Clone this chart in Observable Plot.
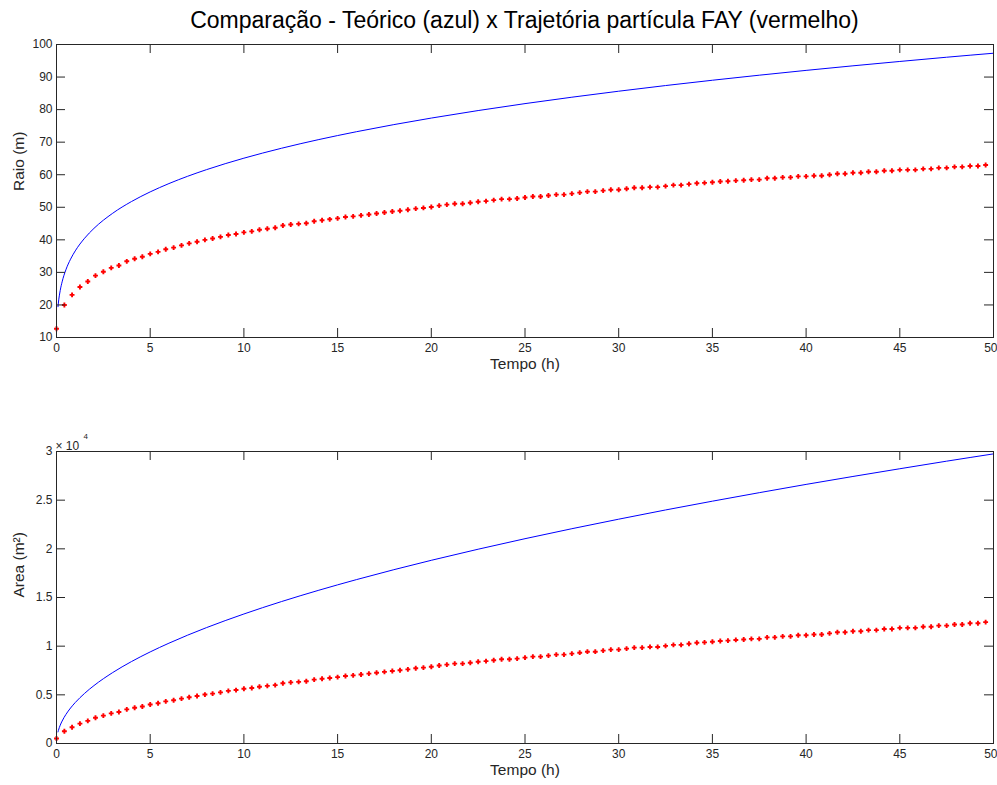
<!DOCTYPE html>
<html>
<head>
<meta charset="utf-8">
<script src="https://cdn.jsdelivr.net/npm/d3@7"></script>
<script src="https://cdn.jsdelivr.net/npm/@observablehq/plot@0.6"></script>
<style>
  html, body { margin: 0; padding: 0; background: #fff; }
  #wrap { position: relative; width: 997px; height: 785px; overflow: hidden; background: #fff; }
  #title { position: absolute; left: 56px; width: 937px; top: 7px; text-align: center;
           font-family: "Liberation Sans", Arial, sans-serif; font-size: 23px; color: #000; }
  #p1 { position: absolute; left: 0; top: 34px; }
  #p2 { position: absolute; left: 0; top: 383px; }
</style>
</head>
<body>
<div id="wrap">
  <div id="title"></div>
  <div id="p1"></div>
  <div id="p2"></div>
</div>
<script>
// ---- data ----
const titleText = "Comparação - Teórico (azul) x Trajetória partícula FAY (vermelho)";
const xLabel = "Tempo (h)";
const yLabelTop = "Raio (m)";
const yLabelBottom = "Area (m²)";

const xTicks = [0, 5, 10, 15, 20, 25, 30, 35, 40, 45, 50];
const yTicksTop = [10, 20, 30, 40, 50, 60, 70, 80, 90, 100];
const yTicksBottom = [0, 5000, 10000, 15000, 20000, 25000, 30000];

// theoretical (blue) curve
const blueTime = [0.08, 0.1, 0.2, 0.3, 0.5, 0.75, 1, 1.5, 2, 3, 4, 5, 6, 7, 8, 10, 12, 14, 16, 18, 20,
  22.5, 25, 27.5, 30, 32.5, 35, 37.5, 40, 42.5, 45, 47.5, 50];
const blueRadius = [19.46, 20.58, 24.48, 27.09, 30.78, 34.06, 36.6, 40.5, 43.52, 48.17, 51.76, 54.73,
  57.28, 59.53, 61.55, 65.08, 68.12, 70.8, 73.2, 75.39, 77.4, 79.71, 81.84, 83.81, 85.65, 87.39,
  89.02, 90.57, 92.05, 93.45, 94.79, 96.09, 97.32];
const blueArea = [1190, 1331, 1883, 2305, 2976, 3645, 4208, 5153, 5950, 7290, 8417, 9410, 10307,
  11133, 11902, 13306, 14578, 15748, 16834, 17856, 18821, 19961, 21042, 22067, 23047, 23993,
  24896, 25770, 26620, 27436, 28228, 29007, 29755];

// FAY particle trajectory (red)
const redTime = [
  0, 0.42, 0.83, 1.25, 1.67, 2.08, 2.5, 2.92, 3.33, 3.75, 4.17, 4.58, 5, 5.42, 5.83, 6.25, 6.67, 7.08, 7.5, 7.92, 8.33, 8.75, 9.17, 9.58,
  10, 10.42, 10.83, 11.25, 11.67, 12.08, 12.5, 12.92, 13.33, 13.75, 14.17, 14.58, 15, 15.42, 15.83, 16.25, 16.67, 17.08, 17.5, 17.92, 18.33, 18.75, 19.17, 19.58,
  20, 20.42, 20.83, 21.25, 21.67, 22.08, 22.5, 22.92, 23.33, 23.75, 24.17, 24.58, 25, 25.42, 25.83, 26.25, 26.67, 27.08, 27.5, 27.92, 28.33, 28.75, 29.17, 29.58,
  30, 30.42, 30.83, 31.25, 31.67, 32.08, 32.5, 32.92, 33.33, 33.75, 34.17, 34.58, 35, 35.42, 35.83, 36.25, 36.67, 37.08, 37.5, 37.92, 38.33, 38.75, 39.17, 39.58,
  40, 40.42, 40.83, 41.25, 41.67, 42.08, 42.5, 42.92, 43.33, 43.75, 44.17, 44.58, 45, 45.42, 45.83, 46.25, 46.67, 47.08, 47.5, 47.92, 48.33, 48.75, 49.17, 49.58];
const redRadius = [
  12.7, 20.0, 23.1, 25.5, 27.2, 29.0, 30.2, 31.4, 32.1, 33.4, 34.2, 34.8, 35.7, 36.3, 37.1, 37.6, 38.3, 38.9, 39.4, 40.0, 40.4, 40.9, 41.5, 41.8,
  42.3, 42.6, 43.1, 43.4, 43.7, 44.4, 44.7, 44.9, 45.1, 45.7, 46.0, 46.3, 46.6, 47.0, 47.2, 47.5, 47.8, 48.1, 48.4, 48.7, 48.95, 49.25, 49.6, 49.8,
  50.1, 50.5, 50.8, 51.1, 51.1, 51.4, 51.7, 51.9, 52.2, 52.5, 52.5, 52.7, 53.0, 53.3, 53.3, 53.6, 53.9, 53.9, 54.2, 54.5, 54.8, 54.8, 55.1, 55.4,
  55.4, 55.7, 56.0, 56.0, 56.2, 56.2, 56.5, 56.8, 56.8, 57.1, 57.4, 57.5, 57.7, 57.9, 58.0, 58.2, 58.3, 58.5, 58.5, 58.9, 58.9, 59.2, 59.2, 59.5,
  59.5, 59.7, 59.7, 60.0, 60.3, 60.3, 60.6, 60.6, 60.9, 60.9, 61.2, 61.2, 61.5, 61.5, 61.5, 61.8, 61.8, 62.1, 62.1, 62.4, 62.4, 62.7, 62.7, 63.0];
const redArea = [
  507, 1257, 1676, 2043, 2324, 2642, 2865, 3097, 3237, 3505, 3675, 3805, 4004, 4140, 4324, 4441, 4608, 4754, 4877, 5027, 5128, 5255, 5411, 5489,
  5621, 5701, 5836, 5917, 5999, 6193, 6277, 6333, 6390, 6561, 6648, 6735, 6822, 6940, 6999, 7088, 7178, 7269, 7359, 7451, 7528, 7620, 7729, 7791,
  7885, 8012, 8107, 8203, 8203, 8300, 8397, 8462, 8560, 8659, 8659, 8725, 8825, 8925, 8925, 9026, 9127, 9127, 9229, 9331, 9434, 9434, 9538, 9642,
  9642, 9747, 9852, 9852, 9922, 9922, 10029, 10136, 10136, 10243, 10351, 10387, 10459, 10532, 10568, 10641, 10678, 10751, 10751, 10899, 10899, 11010, 11010, 11122,
  11122, 11197, 11197, 11310, 11423, 11423, 11537, 11537, 11652, 11652, 11767, 11767, 11882, 11882, 11882, 11998, 11998, 12115, 12115, 12233, 12233, 12351, 12351, 12469];

// ---- build ----
document.getElementById("title").textContent = titleText;

const W = 997;
const mL = 56, mR = 4;
const tickLen = 9;
const ink = "#262626";
const font = '"Liberation Sans", Arial, sans-serif';

const blueTop = blueTime.map((t, i) => ({t, v: blueRadius[i]}));
const blueBot = blueTime.map((t, i) => ({t, v: blueArea[i]}));
const redTop = redTime.map((t, i) => ({t, v: redRadius[i]}));
const redBot = redTime.map((t, i) => ({t, v: redArea[i]}));

const xTicksInner = xTicks.slice(0, -1);
const xTickLast = xTicks.slice(-1);

function panel({mT, mB, innerH, yDomain, yTicks, yFormat, blue, red, yLabel, extra = []}) {
  const innerW = W - mL - mR;
  return Plot.plot({
    width: W,
    height: mT + innerH + mB,
    marginLeft: mL, marginRight: mR, marginTop: mT, marginBottom: mB,
    style: {fontFamily: font, fontSize: "12px", color: ink, background: "white", overflow: "hidden"},
    x: {domain: [0, 50], ticks: xTicks},
    y: {domain: yDomain, ticks: yTicks},
    marks: [
      Plot.line(blue, {x: "t", y: "v", stroke: "#0000ff", strokeWidth: 1, curve: "monotone-x"}),
      Plot.dot(red, {x: "t", y: "v", symbol: "plus", r: 1.7, stroke: "#ff0000", strokeWidth: 1.9}),
      // inward ticks
      Plot.tickX(xTicks, {x: d => d, insetTop: innerH - tickLen, stroke: ink}),
      Plot.tickX(xTicks, {x: d => d, insetBottom: innerH - tickLen, stroke: ink}),
      Plot.tickY(yTicks, {y: d => d, insetRight: innerW - tickLen, stroke: ink}),
      Plot.tickY(yTicks, {y: d => d, insetLeft: innerW - tickLen, stroke: ink}),
      Plot.frame({stroke: ink}),
      Plot.axisX(xTicksInner, {tickSize: 0, tickPadding: 6, label: null, fill: ink, fontSize: 12}),
      Plot.axisX(xTickLast, {tickSize: 0, tickPadding: 6, label: null, fill: ink, fontSize: 12, textAnchor: "end", dx: 4}),
      Plot.axisY(yTicks, {tickSize: 0, tickPadding: 4, label: null, fill: ink, fontSize: 12, tickFormat: yFormat}),
      Plot.text([xLabel], {frameAnchor: "bottom", dy: 31, fontSize: 15.5, fill: ink}),
      Plot.text([yLabel], {frameAnchor: "left", dx: -37, rotate: -90, fontSize: 15.5, fill: ink}),
      ...extra
    ]
  });
}

document.getElementById("p1").append(panel({
  mT: 10, mB: 46, innerH: 293,
  yDomain: [10, 100], yTicks: yTicksTop, yFormat: d => String(d),
  blue: blueTop, red: redTop, yLabel: yLabelTop
}));

document.getElementById("p2").append(panel({
  mT: 68, mB: 42, innerH: 292,
  yDomain: [0, 30000], yTicks: yTicksBottom, yFormat: d => String(d / 10000),
  blue: blueBot, red: redBot, yLabel: yLabelBottom,
  extra: [
    Plot.text(["× 10"], {frameAnchor: "top-left", dx: -1, dy: -10, textAnchor: "start", fontSize: 12, fill: ink}),
    Plot.text(["4"], {frameAnchor: "top-left", dx: 27, dy: -18, textAnchor: "start", fontSize: 8, fill: ink})
  ]
}));
</script>
</body>
</html>
